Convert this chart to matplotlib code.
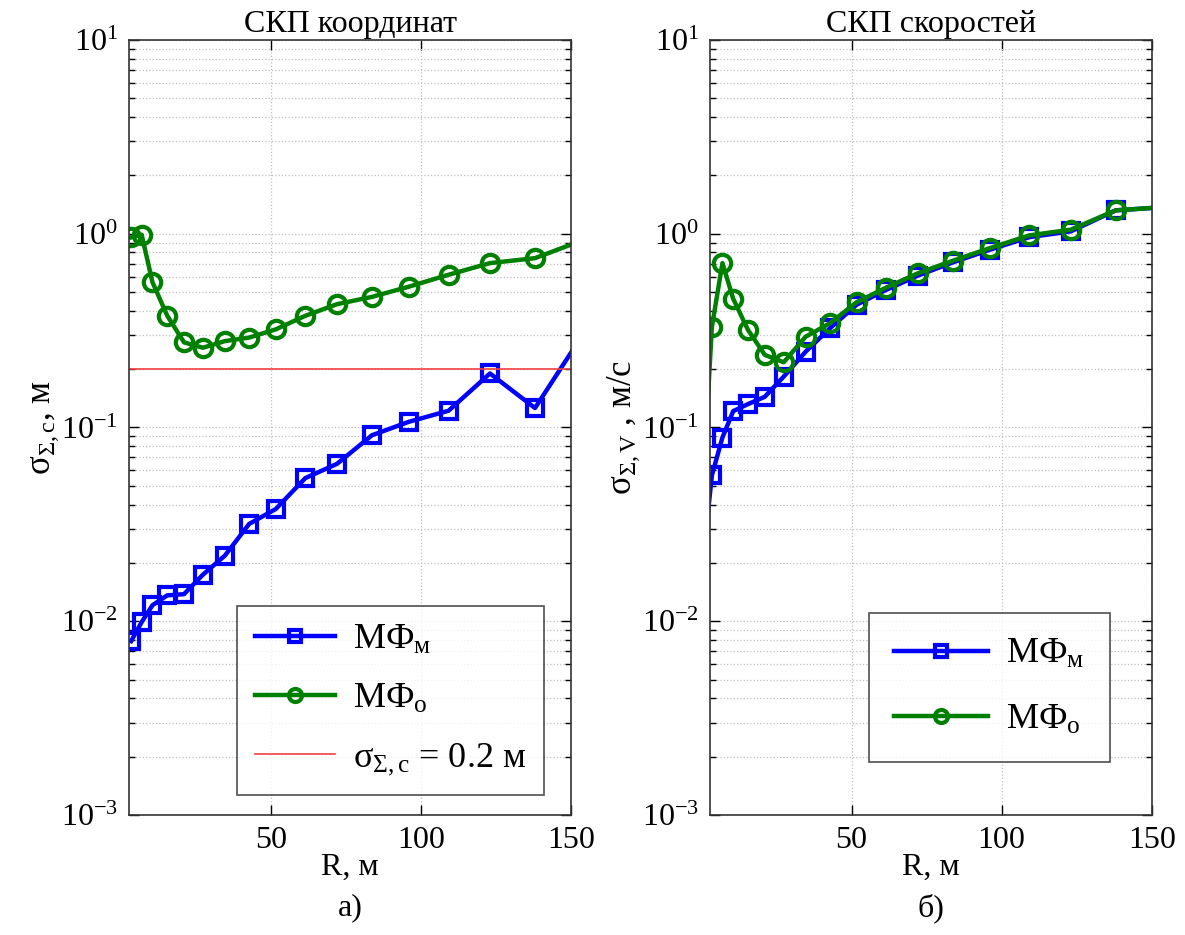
import numpy as np
import matplotlib
matplotlib.use('Agg')
import matplotlib.pyplot as plt
from matplotlib.ticker import LogLocator, NullFormatter

# шрифты
plt.rcParams['font.family'] = ['Liberation Serif', 'DejaVu Serif']
plt.rcParams['mathtext.fontset'] = 'custom'
plt.rcParams['mathtext.rm'] = 'Liberation Serif'
plt.rcParams['mathtext.it'] = 'Liberation Serif:italic'
plt.rcParams['mathtext.default'] = 'rm'

# данные: дальность R, м
R = [3.5, 7.0, 10.6, 15.5, 21.1, 27.4, 34.7, 42.8, 51.7, 61.5, 72.1, 83.7,
     96.0, 109.2, 123.0, 138.0, 153.8]

# а) СКП координат
coord_mf_m = [0.0079, 0.0099, 0.0121, 0.0136, 0.0138, 0.0174, 0.0218, 0.0318,
              0.0380, 0.0548, 0.0650, 0.0912, 0.107, 0.122, 0.190, 0.126, 0.30]
coord_mf_o = [0.957, 0.988, 0.562, 0.378, 0.275, 0.258, 0.279, 0.291, 0.321,
              0.377, 0.433, 0.472, 0.533, 0.614, 0.705, 0.748, 0.925]
sigma_limit = 0.2

# б) СКП скоростей (с предыдущей точкой слева от границы оси)
R_v = [0.8] + R
vel_mf_m = [0.023, 0.0567, 0.0887, 0.1215, 0.132, 0.144, 0.183, 0.246, 0.325,
            0.430, 0.513, 0.608, 0.711, 0.826, 0.960, 1.028, 1.32, 1.37]
vel_mf_o = [0.06, 0.331, 0.705, 0.461, 0.319, 0.237, 0.217, 0.294, 0.345,
            0.443, 0.527, 0.625, 0.725, 0.842, 0.980, 1.049, 1.32, 1.37]

fig = plt.figure(figsize=(11.85, 9.35), dpi=100)
ax1 = fig.add_axes([0.1089, 0.1283, 0.373, 0.829])
ax2 = fig.add_axes([0.599, 0.1283, 0.373, 0.829])

blue = (0, 0, 1)
green = (0, 0.5, 0)
sq = dict(lw=3.2, markersize=11, markeredgewidth=3, markerfacecolor='none')
ci = dict(lw=3.2, markersize=12.5, markeredgewidth=3, markerfacecolor='none')


def style(ax):
    ax.set_yscale('log')
    ax.set_xlim(2.8, 150)
    ax.set_ylim(1e-3, 1e1)
    ax.set_xticks([50, 100, 150])
    ax.yaxis.set_major_locator(LogLocator(base=10, numticks=10))
    ax.yaxis.set_minor_locator(LogLocator(base=10, subs=np.arange(2, 10), numticks=10))
    ax.yaxis.set_minor_formatter(NullFormatter())
    ax.tick_params(which='both', direction='in', top=True, right=True)
    ax.tick_params(which='major', length=7, width=1, labelsize=23, pad=8)
    ax.tick_params(which='minor', length=4, width=1)
    ax.grid(True, which='major', axis='both', color='#c0c0c0', ls=':', lw=0.9)
    ax.grid(True, which='minor', axis='y', color='#c0c0c0', ls=':', lw=0.9)
    for s in ax.spines.values():
        s.set_linewidth(1.2)
        s.set_color('#333333')
    ax.set_xlabel('R, м', fontsize=23, labelpad=-2)


# а)
style(ax1)
ax1.plot(R, coord_mf_m, '-s', color=blue, label='МФ$_{м}$', **sq)
ax1.plot(R, coord_mf_o, '-o', color=green, label='МФ$_{о}$', **ci)
ax1.axhline(sigma_limit, color=(0.95, 0.25, 0.25), lw=1.2,
            label='σ$_{Σ,с}$ = 0.2 м')
ax1.set_title('СКП координат', fontsize=23, pad=6)
ax1.set_ylabel('σ$_{Σ,c}$, м', fontsize=25, labelpad=0)
ax1.text(0.5, -0.12, 'а)', transform=ax1.transAxes, fontsize=23,
         ha='center', va='center')
leg1 = ax1.legend(loc='lower right', bbox_to_anchor=(0.939, 0.026), fontsize=26,
                  handlelength=2.2, markerscale=0.75, labelspacing=0.7,
                  borderpad=0.5, borderaxespad=0, handletextpad=0.5,
                  frameon=True, fancybox=False, edgecolor='#222222')
leg1.get_frame().set_linewidth(1.2)

# б)
style(ax2)
n = len(R_v)
ax2.plot(R_v, vel_mf_m, '-s', color=blue, label='МФ$_{м}$',
         markevery=list(range(1, n)), **sq)
ax2.plot(R_v, vel_mf_o, '-o', color=green, label='МФ$_{о}$',
         markevery=list(range(1, n)), **ci)
ax2.set_title('СКП скоростей', fontsize=23, pad=6)
ax2.set_ylabel('σ$_{Σ,V}$ , м/с', fontsize=25, labelpad=0)
ax2.text(0.5, -0.12, 'б)', transform=ax2.transAxes, fontsize=23,
         ha='center', va='center')
leg2 = ax2.legend(loc='lower right', bbox_to_anchor=(0.905, 0.068), fontsize=26,
                  handlelength=2.6, markerscale=0.75, labelspacing=0.9,
                  borderpad=0.7, borderaxespad=0, handletextpad=0.5,
                  frameon=True, fancybox=False, edgecolor='#222222')
leg2.get_frame().set_linewidth(1.2)

fig.savefig('out.png', dpi=100)
